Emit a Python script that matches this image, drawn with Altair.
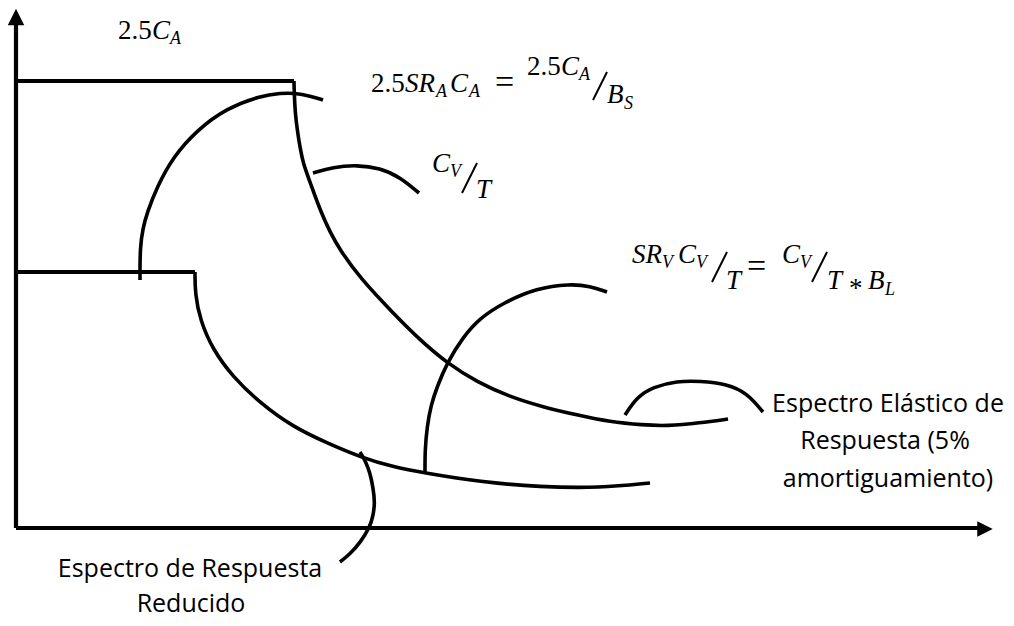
import altair as alt
import pandas as pd

# ---------------- data (image-pixel coordinate space) ----------------
# axes
axis_y_x = [16, 16]
axis_y_y = [528, 22]
axis_x_x = [16, 980]
axis_x_y = [528, 528]

# plateaus
plateau_elastic_x = [16, 294]
plateau_elastic_y = [81, 81]
plateau_reduced_x = [16, 195]
plateau_reduced_y = [272, 272]

# descending branches
elastic_x = [294, 294, 295, 298, 300, 303, 310, 320, 330, 340, 360, 393, 420, 447, 477, 510, 543, 577, 610, 643, 667, 700, 728]
elastic_y = [81, 84, 113, 135, 147, 163, 182, 210, 232, 250, 278, 313, 340, 363, 382, 397, 407, 415, 422, 425, 426, 423, 419]
reduced_x = [195, 195, 200, 213, 233, 260, 293, 327, 360, 393, 425, 480, 540, 600, 650]
reduced_y = [272, 293, 320, 350, 377, 403, 427, 443, 457, 467, 473, 482, 487, 488, 483]

# leader arcs
arc_top_x = [140, 140, 143, 147, 157, 173, 197, 227, 260, 280, 300, 323]
arc_top_y = [280, 247, 228, 213, 187, 157, 130, 108, 96, 93, 93, 100]
arc_cv_x = [313, 333, 357, 380, 400, 419]
arc_cv_y = [173, 167, 165, 168, 177, 193]
arc_sr_x = [425, 425, 427, 431, 437, 447, 463, 480, 503, 537, 570, 590, 607]
arc_sr_y = [473, 450, 427, 405, 387, 363, 337, 318, 303, 288, 284, 286, 292]
arc_el_x = [625, 637, 653, 677, 700, 727, 747, 763]
arc_el_y = [415, 397, 387, 381, 381, 384, 393, 412]
arc_red_x = [360, 366, 370, 373, 375, 373, 370, 360, 350, 340]
arc_red_y = [452, 462, 473, 487, 503, 516, 527, 543, 554, 562]

# arrow heads
arrow_up_x = [16]
arrow_up_y = [17]
arrow_right_x = [985]
arrow_right_y = [529]

# formula pieces: text, left x, baseline y
upright_text = ["2.5", "2.5", "2.5", "*"]
upright_x = [118, 371, 527, 849]
upright_y = [39, 92, 75, 297]

op_text = ["=", "="]
op_x = [495, 747]
op_y = [93, 277]

italic_text = ["C", "SR", "C", "C", "B", "C", "T", "SR", "C", "T", "C", "T", "B"]
italic_x = [152, 405, 450, 561, 607, 432, 476, 632, 678, 726, 782, 827, 868]
italic_y = [39, 92, 92, 75, 103, 172, 198, 263, 263, 289, 263, 289, 289]

sub_text = ["A", "A", "A", "A", "S", "V", "V", "V", "V", "L"]
sub_x = [170, 436, 469, 579, 624, 450, 662, 696, 800, 885]
sub_y = [44, 97, 97, 80, 109, 177, 268, 268, 268, 295]

# fraction slashes
slash_x1 = [593, 462, 712, 812]
slash_y1 = [100, 193, 282, 282]
slash_x2 = [607, 477, 727, 827]
slash_y2 = [72, 163, 252, 252]

# caption labels
label_text = ["Espectro de Respuesta", "Reducido",
              "Espectro Elástico de", "Respuesta (5%", "amortiguamiento)"]
label_x = [190, 191, 888, 885, 888]
label_y = [577, 612, 412, 449, 487]

# ---------------- build tables ----------------
def series(name, xs, ys):
    return pd.DataFrame({"series": name, "i": range(len(xs)), "x": xs, "y": ys})

axes_df = pd.concat([series("ay", axis_y_x, axis_y_y), series("ax", axis_x_x, axis_x_y)])
flat_df = pd.concat([series("pe", plateau_elastic_x, plateau_elastic_y),
                     series("pr", plateau_reduced_x, plateau_reduced_y)])
curve_df = pd.concat([
    series("elastic", elastic_x, elastic_y),
    series("reduced", reduced_x, reduced_y),
    series("a1", arc_top_x, arc_top_y),
    series("a2", arc_cv_x, arc_cv_y),
    series("a3", arc_sr_x, arc_sr_y),
    series("a4", arc_el_x, arc_el_y),
    series("a5", arc_red_x, arc_red_y),
])
up_df = pd.DataFrame({"x": arrow_up_x, "y": arrow_up_y})
right_df = pd.DataFrame({"x": arrow_right_x, "y": arrow_right_y})
upright_df = pd.DataFrame({"t": upright_text, "x": upright_x, "y": upright_y})
op_df = pd.DataFrame({"t": op_text, "x": op_x, "y": op_y})
italic_df = pd.DataFrame({"t": italic_text, "x": italic_x, "y": italic_y})
sub_df = pd.DataFrame({"t": sub_text, "x": sub_x, "y": sub_y})
slash_df = pd.DataFrame({"x": slash_x1, "y": slash_y1, "x2": slash_x2, "y2": slash_y2})
label_df = pd.DataFrame({"t": label_text, "x": label_x, "y": label_y})

W, H = 998, 610
X = alt.X("x:Q", scale=alt.Scale(domain=[8, 8 + W], nice=False, zero=False), axis=None)
Y = alt.Y("y:Q", scale=alt.Scale(domain=[8, 8 + H], nice=False, zero=False, reverse=True), axis=None)

axes_layer = alt.Chart(axes_df).mark_line(color="black", strokeWidth=4.2, strokeCap="butt").encode(
    x=X, y=Y, detail="series:N", order="i:Q")
flat_layer = alt.Chart(flat_df).mark_line(color="black", strokeWidth=3.8, strokeCap="butt").encode(
    x=X, y=Y, detail="series:N", order="i:Q")
curve_layer = alt.Chart(curve_df).mark_line(color="black", strokeWidth=3.6, strokeCap="butt",
                                            interpolate="basis").encode(
    x=X, y=Y, detail="series:N", order="i:Q")
up_layer = alt.Chart(up_df).mark_point(shape="M0,-1L1,1L-1,1Z", size=272, filled=True,
                                       color="black", opacity=1).encode(x=X, y=Y)
right_layer = alt.Chart(right_df).mark_point(shape="M1,0L-1,1L-1,-1Z", size=240, filled=True,
                                             color="black", opacity=1).encode(x=X, y=Y)
slash_layer = alt.Chart(slash_df).mark_rule(color="black", strokeWidth=2).encode(
    x=X, y=Y, x2="x2:Q", y2="y2:Q")

serif = "Liberation Serif"
upright_layer = alt.Chart(upright_df).mark_text(font=serif, fontSize=27, align="left",
                                                baseline="alphabetic", color="black").encode(
    x=X, y=Y, text="t:N")
op_layer = alt.Chart(op_df).mark_text(font=serif, fontSize=34, align="left",
                                      baseline="alphabetic", color="black").encode(
    x=X, y=Y, text="t:N")
italic_layer = alt.Chart(italic_df).mark_text(font=serif, fontSize=27, fontStyle="italic", align="left",
                                              baseline="alphabetic", color="black").encode(
    x=X, y=Y, text="t:N")
sub_layer = alt.Chart(sub_df).mark_text(font=serif, fontSize=18, fontStyle="italic", align="left",
                                        baseline="alphabetic", color="black").encode(
    x=X, y=Y, text="t:N")
label_layer = alt.Chart(label_df).mark_text(font="Open Sans", fontSize=25, align="center",
                                            baseline="alphabetic", color="black").encode(
    x=X, y=Y, text="t:N")

chart = alt.layer(
    axes_layer, flat_layer, curve_layer, up_layer, right_layer, slash_layer,
    upright_layer, op_layer, italic_layer, sub_layer, label_layer
).properties(
    width=W, height=H, padding=0,
    autosize=alt.AutoSizeParams(type="none"),
).configure_view(stroke=None)

chart.save("out.html", embed_options={"renderer": "svg", "actions": False})
